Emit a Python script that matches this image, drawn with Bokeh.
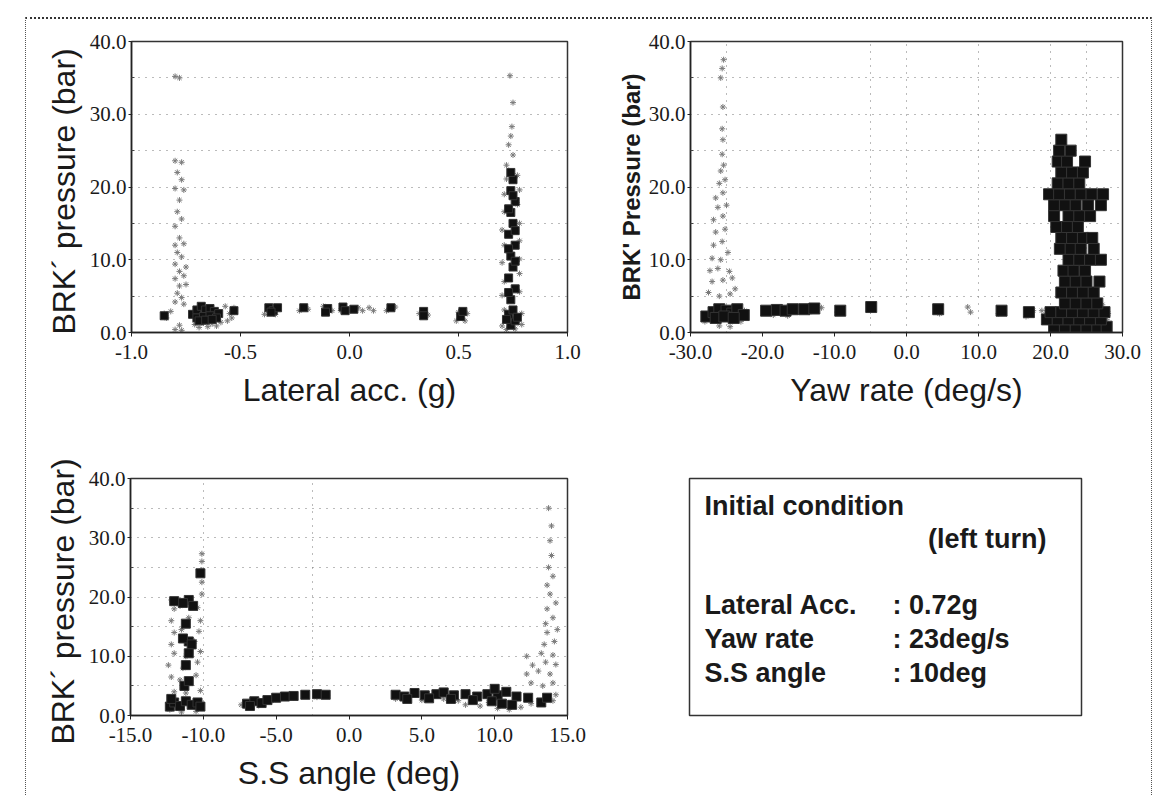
from bokeh.plotting import figure
from bokeh.layouts import row, column
from bokeh.models import FixedTicker, NumeralTickFormatter, Label, Range1d
from bokeh.embed import file_html
from bokeh.resources import INLINE

# ---------------- data ----------------
y_ticks = [0, 10, 20, 30, 40]
y_minor = [5, 15, 25, 35]
y_grid = [5, 10, 15, 20, 25, 30, 35]

lat_ticks = [-1.0, -0.5, 0.0, 0.5, 1.0]
lat_gray_x = [-0.80, -0.77, -0.79, -0.77, -0.80, -0.76, -0.78, -0.79, -0.77, -0.80, -0.78, -0.80, -0.76, -0.79,
              -0.77, -0.80, -0.75, -0.78, -0.76, -0.80, -0.78, -0.75, -0.79, -0.77, -0.80, -0.76, -0.78, -0.80,
              -0.77, -0.80, -0.78, -0.84, -0.82, -0.85,
              -0.71, -0.69, -0.67, -0.65, -0.63, -0.61, -0.59, -0.56, -0.54, -0.53, -0.55, -0.57,
              -0.39, -0.34, -0.23, -0.19, -0.12, -0.08, -0.04, 0.04, 0.06, 0.09, 0.11, 0.17, 0.21, 0.32, 0.36,
              0.49, 0.53, 0.50, 0.54,
              0.70, 0.72, 0.76, 0.79, 0.71, 0.79, 0.70, 0.78, 0.71, 0.78, 0.70, 0.78, 0.71, 0.78, 0.70, 0.78,
              0.71, 0.77, 0.71, 0.78, 0.72, 0.77, 0.72, 0.75, 0.73, 0.74, 0.745, 0.75, 0.736]
lat_gray_y = [23.6, 23.4, 22.0, 21.0, 19.8, 19.6, 18.2, 16.6, 15.6, 14.6, 13.0, 12.0, 12.2, 11.0,
              10.4, 9.4, 9.0, 8.4, 7.8, 7.4, 6.4, 6.6, 5.4, 4.8, 4.2, 3.9, 1.0, 0.4,
              0.3, 35.2, 35.0, 2.0, 2.9, 2.6,
              1.1, 0.7, 1.3, 0.8, 1.2, 0.9, 1.4, 1.6, 2.0, 3.4, 2.6, 3.6,
              2.5, 2.5, 3.0, 3.2, 3.6, 3.0, 3.0, 3.4, 3.0, 3.4, 3.0, 3.0, 3.5, 2.6, 2.4,
              1.6, 1.6, 2.8, 2.6,
              0.9, 0.4, 0.5, 1.1, 3.1, 2.6, 5.1, 5.6, 7.0, 8.1, 9.6, 10.1, 12.0, 12.6, 14.1, 15.0,
              16.6, 17.6, 19.0, 19.6, 21.1, 21.6, 23.0, 24.4, 25.8, 27.0, 28.3, 31.6, 35.3]
lat_dark_x = [-0.72, -0.70, -0.68, -0.66, -0.64, -0.62, -0.60, -0.70, -0.67, -0.64, -0.61, -0.69, -0.66, -0.63,
              -0.53, -0.85,
              -0.37, -0.35, -0.33, -0.36, -0.21, -0.10, -0.11, -0.03, -0.02, 0.02, 0.19, 0.34, 0.34, 0.51, 0.52,
              0.74, 0.76, 0.73, 0.75, 0.74, 0.76, 0.73, 0.75, 0.74, 0.76, 0.73, 0.75, 0.74, 0.76, 0.74, 0.75,
              0.74, 0.72, 0.77, 0.73, 0.76, 0.73, 0.76, 0.73, 0.75]
lat_dark_y = [2.5, 3.1, 3.6, 3.1, 3.3, 2.9, 2.6, 2.0, 2.2, 2.3, 2.0, 1.6, 1.7, 1.8,
              3.0, 2.3,
              3.4, 3.0, 3.4, 2.8, 3.4, 3.3, 2.8, 3.5, 3.0, 3.2, 3.4, 2.9, 2.3, 2.2, 2.9,
              1.0, 1.6, 2.5, 3.1, 4.5, 6.0, 7.5, 9.0, 10.5, 12.0, 13.5, 15.0, 16.5, 18.0, 19.5, 21.0,
              22.0, 1.8, 2.1, 5.5, 9.8, 11.5, 14.0, 17.0, 18.8]

yaw_ticks = [-30, -20, -10, 0, 10, 20, 30]
yaw_vgrid = [-25, -5, 0, 10, 20, 25]
yaw_gray_x = [-27.5, -26.0, -24.5, -23.8, -27.0, -25.5, -24.2, -27.3, -26.2, -24.6, -27.0, -25.8, -24.8, -26.8,
              -25.6, -26.5, -25.2, -26.8, -25.5, -26.2, -25.0, -26.5, -25.5, -26.0, -25.2, -25.8, -25.4, -25.6,
              -25.5, -25.6, -25.5, -25.8, -25.6, -25.4,
              -28.0, -27.2, -23.0, -22.5, -24.5, -26.0, -23.6,
              -18.5, -16.5, -13.5, -11.8, -9.6, -5.0, 4.6, 8.5, 8.9, 12.8, 16.6, 17.6,
              20.5, 22.5, 24.5, 26.5, 27.8, 19.2, 18.8, 27.2, 28.0]
yaw_gray_y = [5.5, 5.0, 5.3, 6.0, 7.0, 7.2, 7.5, 8.5, 8.8, 8.4, 10.2, 10.0, 11.0, 12.0,
              12.5, 13.8, 14.2, 15.5, 16.0, 17.2, 17.5, 18.5, 19.2, 20.5, 21.0, 22.2, 23.0, 24.5,
              26.5, 28.0, 31.0, 35.0, 36.3, 37.5,
              1.5, 2.6, 1.5, 3.0, 0.8, 0.9, 2.2,
              2.4, 2.3, 2.8, 3.4, 2.8, 3.0, 2.6, 3.5, 2.8, 2.6, 2.2, 3.0,
              0.3, 0.4, 0.3, 0.5, 1.8, 2.2, 3.0, 3.8, 2.6]
yaw_dark_x = [-27.8, -26.8, -26.0, -25.0, -24.2, -23.5, -22.6, -26.5, -25.3, -24.0,
              -19.5, -18.0, -16.8, -15.8, -14.2, -12.8, -9.2, -4.9, 4.4, 13.2, 17.0,
              20.5, 22.0, 23.5, 25.0, 26.5, 27.8,
              19.5, 21.0, 22.5, 24.0, 25.5, 27.0,
              20.0, 21.5, 23.0, 24.5, 26.0, 27.5,
              22.0, 23.5, 25.0, 26.5,
              21.5, 23.0, 24.5, 26.0,
              22.0, 23.5, 25.0, 26.8,
              21.8, 23.2, 24.8,
              22.5, 24.0, 25.5, 27.0,
              21.3, 22.8, 24.2, 26.0,
              21.5, 23.0, 24.5, 25.8,
              20.8, 22.3, 23.8,
              20.5, 22.5, 24.0, 25.5,
              20.5, 22.0, 23.5, 25.2, 27.0,
              19.8, 21.2, 22.7, 24.2, 25.7, 27.3,
              21.0, 22.5, 24.0,
              21.5, 23.0, 24.5,
              21.0, 22.3, 24.8,
              21.2, 22.8,
              21.5]
yaw_dark_y = [2.2, 2.8, 3.2, 3.0, 2.6, 3.2, 2.4, 2.0, 2.2, 2.0,
              3.0, 3.1, 3.0, 3.2, 3.2, 3.3, 3.0, 3.5, 3.2, 3.0, 2.8,
              0.8, 0.8, 0.8, 0.8, 0.8, 0.8,
              1.8, 1.8, 1.8, 1.8, 1.8, 1.8,
              2.8, 2.8, 2.8, 2.8, 2.8, 2.8,
              4.0, 4.0, 4.0, 4.0,
              5.5, 5.5, 5.5, 5.5,
              7.0, 7.0, 7.0, 7.0,
              8.5, 8.5, 8.5,
              10.0, 10.0, 10.0, 10.0,
              11.5, 11.5, 11.5, 11.5,
              13.0, 13.0, 13.0, 13.0,
              14.5, 14.5, 14.5,
              16.0, 16.0, 16.0, 16.0,
              17.5, 17.5, 17.5, 17.5, 17.5,
              19.0, 19.0, 19.0, 19.0, 19.0, 19.0,
              20.5, 20.5, 20.5,
              22.0, 22.0, 22.0,
              23.5, 23.5, 23.5,
              25.0, 25.0,
              26.5]

ss_ticks = [-15, -10, -5, 0, 5, 10, 15]
ss_vgrid = [-10, -2.5]
ss_gray_x = [-12.3, -11.5, -10.5, -12.0, -11.2, -10.2, -12.2, -11.6, -10.5, -12.4, -11.4, -10.4, -12.0, -11.2,
             -10.2, -12.2, -10.6, -12.0, -11.5, -10.3, -12.2, -11.0, -10.2, -12.0, -11.6, -10.4, -12.2, -10.1,
             -10.1, -10.1, -10.1, -10.1,
             -7.4, -6.2, -5.2, -3.8, -2.2, -1.5,
             3.2, 5.0, 6.5, 8.0, 9.0, 10.2, 11.0, 11.8, 12.5, 14.0, 14.2, 7.5, 9.6,
             12.5, 13.3, 14.0, 12.2, 13.0, 13.8, 12.6, 13.5, 14.2, 12.2, 13.2, 14.0, 13.4, 14.1,
             13.6, 14.3, 13.5, 14.0, 13.6, 14.2, 13.8, 13.6, 14.0, 13.7, 13.9, 13.8, 13.9, 13.7]
ss_gray_y = [1.0, 0.6, 0.7, 4.0, 3.8, 4.2, 6.5, 6.0, 6.8, 8.5, 8.0, 9.0, 10.5, 10.0,
             10.8, 12.0, 12.5, 14.0, 14.5, 14.2, 16.0, 16.5, 16.0, 18.0, 18.5, 18.2, 19.5, 20.5,
             22.5, 24.5, 26.0, 27.3,
             1.8, 1.7, 2.6, 3.0, 3.1, 3.4,
             2.8, 2.6, 2.8, 1.8, 1.6, 1.2, 1.0, 1.4, 2.0, 2.5, 3.5, 2.5, 2.2,
             5.5, 5.0, 5.5, 7.0, 7.5, 7.0, 8.5, 9.0, 8.6, 10.0, 10.5, 10.2, 12.0, 12.5,
             14.0, 14.5, 15.5, 16.5, 18.0, 19.0, 20.5, 22.0, 23.5, 25.0, 27.0, 29.5, 32.0, 35.0]
ss_dark_x = [-12.3, -12.0, -11.6, -11.2, -10.8, -10.4, -10.2, -12.2, -11.0, -11.4, -10.7, -11.0, -11.4, -10.8,
             -11.3, -11.0, -11.2, -11.0, -11.2, -10.2, -12.0,
             -7.0, -6.5, -6.0, -5.6, -5.0, -4.4, -3.8, -3.0, -2.2, -1.6, -6.8,
             3.2, 3.8, 4.5, 5.2, 6.0, 6.5, 7.2, 8.0, 8.8, 9.5, 10.2, 10.8, 11.5, 12.3, 13.2, 13.6,
             4.0, 5.5, 7.0, 8.5, 9.8, 10.5, 11.2, 10.0]
ss_dark_y = [1.5, 2.2, 1.6, 2.4, 1.8, 2.2, 1.5, 2.8, 19.5, 19.0, 18.5, 12.5, 13.0, 12.0,
             5.0, 5.8, 8.5, 10.5, 15.5, 24.0, 19.3,
             2.0, 2.4, 2.1, 2.6, 3.0, 3.2, 3.3, 3.5, 3.6, 3.5, 1.6,
             3.5, 3.2, 3.8, 3.4, 3.6, 3.9, 3.4, 3.6, 3.2, 3.6, 3.4, 4.0, 3.2, 3.0, 2.2, 3.0,
             2.8, 2.9, 2.8, 2.6, 2.4, 2.0, 1.8, 4.5]

box_title = "Initial condition"
box_subtitle = "(left turn)"
box_names = ["Lateral Acc.", "Yaw rate", "S.S angle"]
box_values = [": 0.72g", ": 23deg/s", ": 10deg"]

# ---------------- styling helpers ----------------
TICK_FONT = "Liberation Sans Narrow"
LABEL_FONT = "Liberation Sans"
INK = "#1a1a1a"
GRAY = "#7a7a7a"


def panel(w, h, bl, br, bt, bb, xr, xticks, xlabel, ylabel, yl_size, yl_style, yl_standoff, vgrid=None):
    p = figure(width=w, height=h, x_range=Range1d(*xr), y_range=Range1d(0, 40),
               output_backend="svg", toolbar_location=None,
               min_border_left=bl, min_border_right=br, min_border_top=bt, min_border_bottom=bb)
    p.outline_line_color = "#333333"
    p.outline_line_width = 1.5
    p.background_fill_color = "white"
    p.border_fill_color = None
    for ax in (p.xaxis[0], p.yaxis[0]):
        ax.axis_line_color = "#222222"
        ax.axis_line_width = 1.5
        ax.major_tick_line_color = "#222222"
        ax.minor_tick_line_color = "#444444"
        ax.major_tick_out = 4
        ax.major_tick_in = 0
        ax.minor_tick_out = 0
        ax.minor_tick_in = 3
        ax.major_label_text_font = TICK_FONT
        ax.major_label_text_font_size = "21px"
        ax.major_label_text_color = INK
        ax.formatter = NumeralTickFormatter(format="0.0")
        ax.axis_label_text_font = LABEL_FONT
        ax.axis_label_text_color = INK
    p.xaxis[0].ticker = FixedTicker(ticks=xticks)
    p.yaxis[0].ticker = FixedTicker(ticks=y_ticks, minor_ticks=y_minor)
    p.xaxis[0].major_label_standoff = 8
    p.yaxis[0].major_label_standoff = 2
    p.yaxis[0].major_tick_out = 3
    p.xaxis.axis_label = xlabel
    p.xaxis.axis_label_text_font_size = "32px"
    p.xaxis.axis_label_text_font_style = "normal"
    p.xaxis.axis_label_standoff = 10
    p.yaxis.axis_label = ylabel
    p.yaxis.axis_label_text_font_size = yl_size
    p.yaxis.axis_label_text_font_style = yl_style
    p.yaxis.axis_label_standoff = yl_standoff
    p.ygrid.ticker = FixedTicker(ticks=y_grid)
    p.ygrid.grid_line_color = "#777777"
    p.ygrid.grid_line_dash = "1 6"
    p.ygrid.grid_line_width = 1
    if vgrid:
        p.xgrid.ticker = FixedTicker(ticks=vgrid)
        p.xgrid.grid_line_color = "#777777"
        p.xgrid.grid_line_dash = "1 6"
    else:
        p.xgrid.grid_line_color = None
    return p


def add_points(p, gx, gy, dx, dy, dsize):
    p.scatter(gx, gy, marker="asterisk", size=6, line_color=GRAY, line_width=1)
    p.scatter(dx, dy, marker="square", size=dsize, fill_color="#111111", line_color="#333333", line_width=1)


p1 = panel(565, 393, 105, 24, 19, 77, (-1.0, 1.0), lat_ticks, "Lateral acc. (g)",
           "BRK\u00b4  pressure (bar)", "32px", "normal", 5)
add_points(p1, lat_gray_x, lat_gray_y, lat_dark_x, lat_dark_y, 8)

p2 = panel(560, 393, 99, 29, 22, 80, (-30, 30), yaw_ticks, "Yaw rate (deg/s)",
           "BRK' Pressure (bar)", "24px", "bold", 1, vgrid=yaw_vgrid)
add_points(p2, yaw_gray_x, yaw_gray_y, yaw_dark_x, yaw_dark_y, 11)

p3 = panel(565, 385, 104, 24, 8, 82, (-15, 15), ss_ticks, "S.S angle (deg)",
           "BRK\u00b4  pressure (bar)", "32px", "normal", 5, vgrid=ss_vgrid)
add_points(p3, ss_gray_x, ss_gray_y, ss_dark_x, ss_dark_y, 9)

# text box panel
pb = figure(width=560, height=385, x_range=Range1d(0, 1), y_range=Range1d(0, 1),
            output_backend="svg", toolbar_location=None,
            min_border_left=98, min_border_right=70, min_border_top=66, min_border_bottom=78)
pb.axis.visible = False
pb.grid.visible = False
pb.outline_line_color = "#333333"
pb.outline_line_width = 1.5
pb.border_fill_color = None


def lab(p, text, x, y, align="left"):
    p.add_layout(Label(x=x, y=y, x_units="screen", y_units="screen", text=text,
                       text_font="Liberation Sans", text_font_style="bold",
                       text_font_size="27px", text_color=INK, text_align=align,
                       text_baseline="middle"))


# frame is 392 x 241 screen px; y measured from bottom
lab(pb, box_title, 15, 241 - 31)
lab(pb, box_subtitle, 357, 241 - 64, align="right")
for i, (n, v) in enumerate(zip(box_names, box_values)):
    yy = 241 - 130 - i * 34
    lab(pb, n, 15, yy)
    lab(pb, v, 203, yy)

layout = column(row(p1, p2), row(p3, pb), margin=(17, 0, 0, 25),
                styles={"border-top": "2px dotted #333", "border-left": "1px dotted #555",
                        "border-right": "1px dotted #555"})

open("out.html", "w").write(file_html(layout, INLINE))
